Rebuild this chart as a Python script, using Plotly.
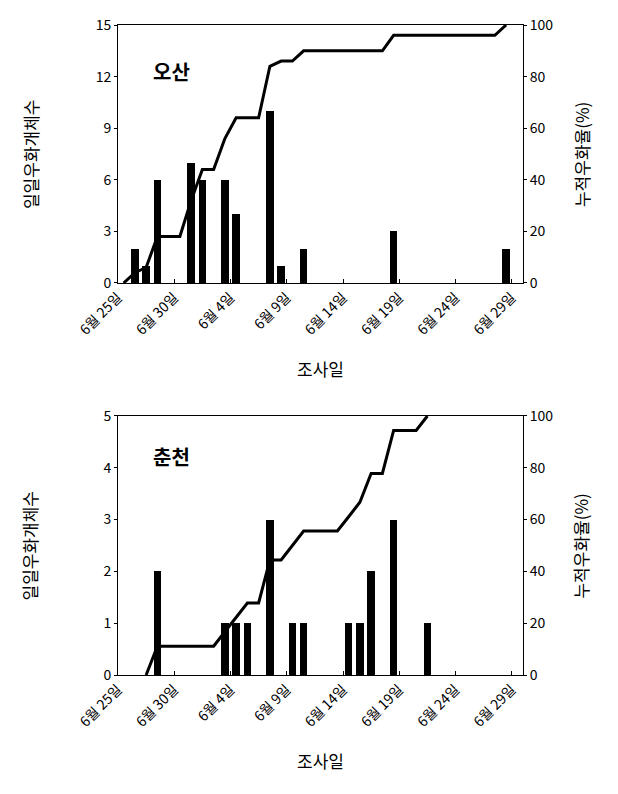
import plotly.graph_objects as go

# ---- data ----
tick_labels = ["6월 25일", "6월 30일", "6월 4일", "6월 9일", "6월 14일", "6월 19일", "6월 24일", "6월 29일"]

# day index (0 = first category, 6월 25일)
osan_days = [1, 2, 3, 6, 7, 9, 10, 13, 14, 16, 24, 34]
osan_counts = [2, 1, 6, 7, 6, 6, 4, 10, 1, 2, 3, 2]
osan_cum_days = list(range(0, 35))
osan_cum = [0, 4, 6, 18, 18, 18, 32, 44, 44, 56, 64, 64, 64, 84, 86, 86, 90, 90, 90, 90,
            90, 90, 90, 90, 96, 96, 96, 96, 96, 96, 96, 96, 96, 96, 100]

chun_days = [3, 9, 10, 11, 13, 15, 16, 20, 21, 22, 24, 27]
chun_counts = [2, 1, 1, 1, 3, 1, 1, 1, 1, 2, 3, 1]
chun_cum_days = list(range(2, 28))
chun_cum = [0, 11.1, 11.1, 11.1, 11.1, 11.1, 11.1, 16.7, 22.2, 27.8, 27.8, 44.4, 44.4, 50,
            55.6, 55.6, 55.6, 55.6, 61.1, 66.7, 77.8, 77.8, 94.4, 94.4, 94.4, 100]

FONT = "Noto Sans CJK KR"
tickvals = [-0.5 + 5 * k for k in range(len(tick_labels))]

fig = go.Figure()
fig.add_trace(go.Bar(x=osan_days, y=osan_counts, width=0.68, marker=dict(color="black", line_width=0),
                     xaxis="x", yaxis="y", showlegend=False))
fig.add_trace(go.Scatter(x=osan_cum_days, y=osan_cum, mode="lines", line=dict(color="black", width=3),
                         xaxis="x", yaxis="y2", showlegend=False))
fig.add_trace(go.Bar(x=chun_days, y=chun_counts, width=0.68, marker=dict(color="black", line_width=0),
                     xaxis="x2", yaxis="y3", showlegend=False))
fig.add_trace(go.Scatter(x=chun_cum_days, y=chun_cum, mode="lines", line=dict(color="black", width=3),
                         xaxis="x2", yaxis="y4", showlegend=False))

top_dom = [0.6031, 1.0]
bot_dom = [0.0, 0.3985]

xcommon = dict(range=[-0.5, 35.5], tickvals=tickvals, ticktext=tick_labels, tickangle=-45,
               ticks="inside", ticklen=4, tickcolor="black", showline=True, linecolor="black",
               linewidth=1, mirror=True, showgrid=False, zeroline=False,
               tickfont=dict(family=FONT, size=14, color="black"))
ycommon = dict(ticks="outside", ticklen=3, tickcolor="black", showline=True, linecolor="black",
               linewidth=1, showgrid=False, zeroline=False,
               tickfont=dict(family=FONT, size=14, color="black"))

fig.update_layout(
    width=618, height=794,
    margin=dict(l=118, r=95, t=25, b=119),
    paper_bgcolor="white", plot_bgcolor="white",
    bargap=0,
    xaxis=dict(domain=[0, 1], anchor="y", **xcommon),
    yaxis=dict(domain=top_dom, anchor="x", range=[0, 15], tickvals=[0, 3, 6, 9, 12, 15], **ycommon),
    yaxis2=dict(overlaying="y", side="right", anchor="x", range=[0, 100],
                tickvals=[0, 20, 40, 60, 80, 100], **ycommon),
    xaxis2=dict(domain=[0, 1], anchor="y3", **xcommon),
    yaxis3=dict(domain=bot_dom, anchor="x2", range=[0, 5], tickvals=[0, 1, 2, 3, 4, 5], **ycommon),
    yaxis4=dict(overlaying="y3", side="right", anchor="x2", range=[0, 100],
                tickvals=[0, 20, 40, 60, 80, 100], **ycommon),
)

ann = []
title_font = dict(family=FONT, size=17, color="black")
for yc, xt_y, name, name_y in [(0.8015, 0.4723, "오산", 0.9277), (0.1992, -0.1308, "춘천", 0.3354)]:
    ann.append(dict(text="일일우화개체수", x=-0.2173, y=yc, xref="paper", yref="paper",
                    textangle=-90, showarrow=False, xanchor="center", yanchor="middle", font=title_font))
    ann.append(dict(text="누적우화율(%)", x=1.1432, y=yc, xref="paper", yref="paper",
                    textangle=-90, showarrow=False, xanchor="center", yanchor="middle", font=title_font))
    ann.append(dict(text="조사일", x=0.5, y=xt_y, xref="paper", yref="paper",
                    showarrow=False, xanchor="center", yanchor="middle", font=title_font))
    ann.append(dict(text="<b>" + name + "</b>", x=0.1333, y=name_y, xref="paper", yref="paper",
                    showarrow=False, xanchor="center", yanchor="middle",
                    font=dict(family=FONT, size=20, color="black")))
fig.update_layout(annotations=ann)

fig.write_html("out.html")
